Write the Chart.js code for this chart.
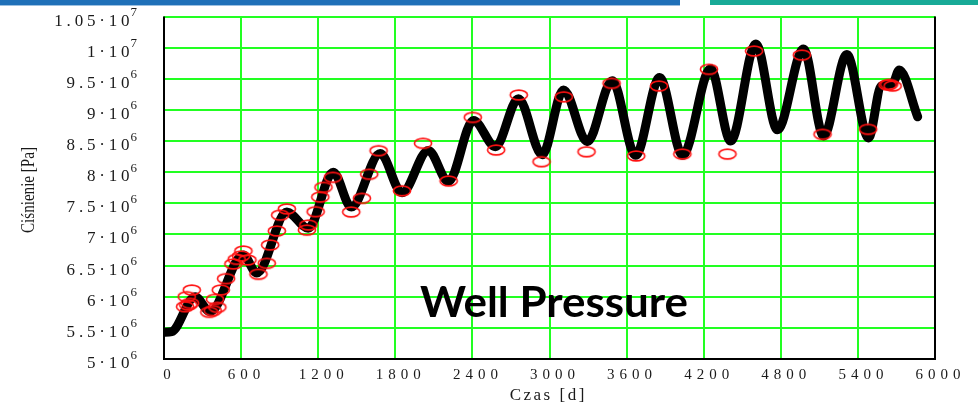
<!DOCTYPE html>
<html>
<head>
<meta charset="utf-8">
<script src="https://cdn.jsdelivr.net/npm/chart.js@4.4.1/dist/chart.umd.min.js"></script>
<style>
  body { margin: 0; background: #fff; }
  #wrap { position: relative; width: 978px; height: 406px; overflow: hidden; }
  .bar { position: absolute; top: 0; height: 5px; }
  #barBlue { left: 0; width: 680px; background: #1f70b8; border-bottom: 1px solid #9cc0e0; }
  #barTeal { left: 710px; width: 268px; background: #18aa97; }
</style>
</head>
<body>
<div id="wrap">
  <canvas id="pressureChart" width="978" height="406"></canvas>
  <div class="bar" id="barBlue"></div>
  <div class="bar" id="barTeal"></div>
</div>
<script>
// simulated well pressure: time [d] / pressure [Pa]
const simDays = [0, 60, 242, 358, 616, 722, 956, 1122, 1317, 1457, 1683, 1852, 2057, 2213,
  2408, 2579, 2758, 2943, 3109, 3294, 3488, 3670, 3857, 4036, 4254, 4410, 4606, 4774,
  4977, 5133, 5314, 5483, 5580, 5670, 5722, 5865];
const simPressure = [5.43e6, 5.44e6, 6.00e6, 5.76e6, 6.67e6, 6.38e6, 7.36e6, 7.10e6, 8.00e6,
  7.44e6, 8.30e6, 7.67e6, 8.35e6, 7.85e6, 8.83e6, 8.41e6, 9.18e6, 8.28e6, 9.32e6, 8.49e6,
  9.47e6, 8.27e6, 9.52e6, 8.27e6, 9.66e6, 8.50e6, 10.06e6, 8.68e6, 9.98e6, 8.58e6, 9.89e6,
  8.55e6, 9.38e6, 9.42e6, 9.64e6, 8.89e6];

// measured pressure points
const obsDays = [164, 177, 189, 203, 216, 353, 379, 397, 415, 442, 483, 540, 566, 600, 618,
  649, 735, 800, 826, 878, 904, 956, 1112, 1124, 1180, 1216, 1241, 1314, 1457, 1540, 1597,
  1670, 1852, 2016, 2215, 2403, 2585, 2761, 2938, 3111, 3288, 3483, 3675, 3852, 4034, 4241,
  4385, 4592, 4964, 5125, 5480, 5631, 5644, 5670];
const obsPressure = [5.84e6, 6.00e6, 5.867e6, 5.894e6, 6.108e6, 5.75e6, 5.776e6, 5.958e6,
  5.83e6, 6.108e6, 6.29e6, 6.525e6, 6.60e6, 6.654e6, 6.734e6, 6.59e6, 6.36e6, 6.536e6, 6.83e6,
  7.055e6, 7.31e6, 7.41e6, 7.07e6, 7.15e6, 7.365e6, 7.60e6, 7.757e6, 7.917e6, 7.36e6, 7.58e6,
  7.966e6, 8.345e6, 7.70e6, 8.463e6, 7.858e6, 8.88e6, 8.356e6, 9.239e6, 8.168e6, 9.21e6,
  8.328e6, 9.427e6, 8.26e6, 9.383e6, 8.29e6, 9.651e6, 8.29e6, 9.945e6, 9.88e6, 8.608e6,
  8.688e6, 9.40e6, 9.41e6, 9.383e6];

const xTicks = [0, 600, 1200, 1800, 2400, 3000, 3600, 4200, 4800, 5400, 6000];
const yTicks = [5e6, 5.5e6, 6e6, 6.5e6, 7e6, 7.5e6, 8e6, 8.5e6, 9e6, 9.5e6, 1e7, 1.05e7];

const serif = '"Liberation Serif", "Times New Roman", serif';

// red open ellipse used as the marker for measured points
function ellipseMarker() {
  const c = document.createElement('canvas');
  c.width = 22;
  c.height = 14;
  const g = c.getContext('2d');
  g.strokeStyle = '#ff1010';
  g.lineWidth = 1.6;
  g.beginPath();
  g.ellipse(11, 7, 8.6, 4.9, 0, 0, Math.PI * 2);
  g.stroke();
  return c;
}

// axis frame, mathcad-style tick labels and the caption
const decorations = {
  id: 'decorations',
  beforeDatasetsDraw(chart) {
    const ctx = chart.ctx;
    const a = chart.chartArea;
    ctx.save();
    ctx.strokeStyle = '#000';
    ctx.lineWidth = 2;
    ctx.beginPath();
    ctx.moveTo(a.left, a.top);
    ctx.lineTo(a.left, a.bottom);
    ctx.lineTo(a.right, a.bottom);
    ctx.lineTo(a.right, a.top);
    ctx.stroke();
    ctx.restore();
  },
  afterDraw(chart) {
    const ctx = chart.ctx;
    const xs = chart.scales.x;
    const ys = chart.scales.y;
    ctx.save();
    ctx.fillStyle = '#1a1a1a';
    ctx.textBaseline = 'alphabetic';
    ctx.textAlign = 'left';

    // y ticks: mantissa·10^exp
    yTicks.forEach(v => {
      const py = ys.getPixelForValue(v);
      const exp = v >= 1e7 ? 7 : 6;
      const mant = String(+(v / Math.pow(10, exp)).toFixed(2));
      ctx.letterSpacing = '0px';
      ctx.font = '13px ' + serif;
      const ew = ctx.measureText(String(exp)).width;
      const ex = 137 - ew;
      ctx.fillText(String(exp), ex, py - 0.5);
      ctx.letterSpacing = '3.8px';
      ctx.font = '17px ' + serif;
      const main = mant + '·10';
      const mw = ctx.measureText(main).width - 3.8;
      ctx.fillText(main, ex - mw - 1, py + 9);
    });

    // x ticks
    ctx.letterSpacing = '5px';
    ctx.font = '15px ' + serif;
    xTicks.forEach(v => {
      const px = xs.getPixelForValue(v);
      const s = String(v);
      const w = ctx.measureText(s).width - 5;
      ctx.fillText(s, px - w / 2 + 3, 379);
    });

    // x title
    ctx.letterSpacing = '2.5px';
    ctx.font = '17px ' + serif;
    const tw = ctx.measureText('Czas [d]').width - 2.5;
    ctx.fillText('Czas [d]', 547 - tw / 2, 400);

    // y title, narrow serif
    ctx.letterSpacing = '0px';
    ctx.font = '19px ' + serif;
    const yw = ctx.measureText('Ciśnienie [Pa]').width;
    ctx.save();
    ctx.translate(34, 190);
    ctx.rotate(-Math.PI / 2);
    ctx.scale(86 / yw, 1);
    ctx.textAlign = 'center';
    ctx.fillText('Ciśnienie [Pa]', 0, 0);
    ctx.restore();

    // caption
    ctx.font = 'bold 42px Lato, "Open Sans", sans-serif';
    ctx.fillStyle = '#000';
    const cw = ctx.measureText('Well Pressure').width;
    ctx.save();
    ctx.translate(420, 317);
    ctx.scale(268 / cw, 1);
    ctx.fillText('Well Pressure', 0, 0);
    ctx.restore();

    ctx.restore();
  }
};

const ctx = document.getElementById('pressureChart').getContext('2d');
const pressureChart = new Chart(ctx, {
  type: 'scatter',
  data: {
    datasets: [
      {
        label: 'measured',
        data: obsDays.map((d, i) => ({ x: d, y: obsPressure[i] })),
        showLine: false,
        pointStyle: ellipseMarker(),
        pointRadius: 6,
        order: 0
      },
      {
        label: 'simulated',
        data: simDays.map((d, i) => ({ x: d, y: simPressure[i] })),
        showLine: true,
        borderColor: '#000',
        borderWidth: 9,
        borderCapStyle: 'round',
        borderJoinStyle: 'round',
        cubicInterpolationMode: 'monotone',
        pointRadius: 0,
        order: 1
      }
    ]
  },
  options: {
    responsive: false,
    animation: false,
    events: [],
    layout: { padding: { left: 164, right: 43, top: 16.5, bottom: 47 } },
    plugins: { legend: { display: false }, tooltip: { enabled: false } },
    scales: {
      x: {
        type: 'linear',
        min: 0,
        max: 6000,
        afterBuildTicks: scale => { scale.ticks = xTicks.map(v => ({ value: v })); },
        ticks: { display: false },
        border: { display: false },
        grid: { color: '#22ff22', lineWidth: 2, drawTicks: false }
      },
      y: {
        type: 'linear',
        min: 5e6,
        max: 1.05e7,
        afterBuildTicks: scale => { scale.ticks = yTicks.map(v => ({ value: v })); },
        ticks: { display: false },
        border: { display: false },
        grid: { color: '#22ff22', lineWidth: 2, drawTicks: false }
      }
    }
  },
  plugins: [decorations]
});
</script>
</body>
</html>
